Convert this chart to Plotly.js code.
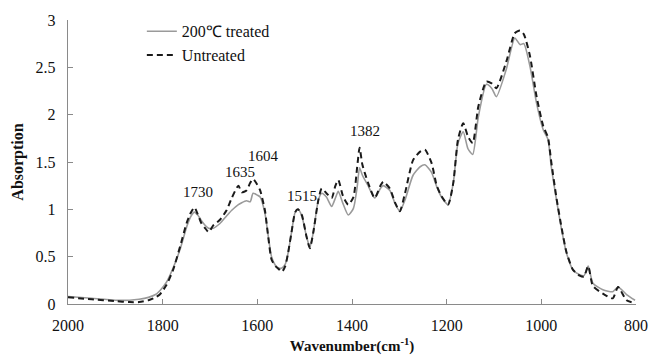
<!DOCTYPE html>
<html>
<head>
<meta charset="utf-8">
<script src="https://cdn.plot.ly/plotly-3.0.1.min.js"></script>
<style>html,body{margin:0;padding:0;background:#fff;}#chart{width:651px;height:356px;}</style>
</head>
<body>
<div id="chart"></div>
<script>
const wavenumber = [2000,1950,1900,1870,1850,1830,1815,1806,1792,1778,1763,1749,1740,1733,1726,1718,1710,1703,1693,1679,1665,1654,1640,1633,1623,1615,1609,1600,1594,1584,1577,1570,1562,1555,1548,1541,1535,1528,1520,1514,1506,1496,1489,1482,1471,1464,1454,1443,1435,1429,1419,1408,1397,1389,1384,1378,1366,1352,1340,1334,1320,1309,1299,1288,1271,1256,1246,1232,1221,1211,1197,1186,1176,1165,1155,1145,1133,1116,1105,1095,1074,1056,1045,1037,1024,1010,996,986,979,968,957,947,933,919,910,901,891,870,849,838,820,802];
const treated = [0.08,0.06,0.04,0.04,0.05,0.07,0.10,0.14,0.23,0.38,0.58,0.82,0.93,0.97,0.94,0.88,0.83,0.80,0.80,0.85,0.93,0.99,1.05,1.07,1.09,1.08,1.17,1.15,1.13,0.96,0.72,0.50,0.41,0.38,0.38,0.42,0.54,0.75,0.97,1.00,0.93,0.71,0.60,0.75,1.10,1.17,1.13,1.03,1.12,1.19,1.06,0.94,1.01,1.24,1.44,1.36,1.25,1.12,1.22,1.25,1.20,1.06,0.98,1.10,1.36,1.45,1.47,1.39,1.24,1.13,1.05,1.28,1.70,1.82,1.64,1.58,1.98,2.32,2.28,2.19,2.48,2.81,2.74,2.75,2.51,2.12,1.84,1.74,1.45,1.10,0.78,0.54,0.36,0.31,0.30,0.40,0.22,0.15,0.13,0.18,0.10,0.04];
const untreated = [0.07,0.05,0.03,0.02,0.02,0.04,0.07,0.10,0.20,0.36,0.61,0.86,0.97,1.02,0.95,0.85,0.80,0.76,0.83,0.89,0.99,1.12,1.25,1.18,1.20,1.28,1.32,1.26,1.20,0.99,0.71,0.47,0.40,0.37,0.34,0.40,0.54,0.75,0.97,1.00,0.94,0.71,0.59,0.75,1.10,1.22,1.17,1.12,1.25,1.31,1.14,1.05,1.13,1.45,1.65,1.47,1.28,1.12,1.25,1.29,1.22,1.07,0.98,1.17,1.52,1.61,1.63,1.49,1.25,1.14,1.05,1.28,1.74,1.91,1.77,1.70,2.09,2.35,2.33,2.28,2.56,2.86,2.89,2.85,2.62,2.19,1.88,1.76,1.50,1.12,0.80,0.55,0.36,0.30,0.29,0.40,0.19,0.11,0.06,0.18,0.04,0.01];
const peakLabels = ["1730","1635","1604","1515","1382"];
const peakX = [1725,1637,1587,1506,1373];
const peakY = [1.185,1.39,1.56,1.14,1.83];
const seriesNames = ["200\u2103 treated","Untreated"];
const xTicks = [2000,1800,1600,1400,1200,1000,800];
const yTicks = [0,0.5,1,1.5,2,2.5,3];

const font = "'Times New Roman', 'Liberation Serif', serif";
const traces = [
  {x: wavenumber, y: treated, name: seriesNames[0], type: 'scatter', mode: 'lines',
   line: {color: '#9a9a9a', width: 1.6, shape: 'spline', smoothing: 0.6}},
  {x: wavenumber, y: untreated, name: seriesNames[1], type: 'scatter', mode: 'lines',
   line: {color: '#1a1a1a', width: 2, dash: '6px,4px', shape: 'spline', smoothing: 0.6}}
];
const annotations = peakLabels.map((t,i)=>({x: peakX[i], y: peakY[i], text: t, showarrow: false,
  font: {family: font, size: 15, color: '#111'}, xanchor: 'center', yanchor: 'middle'}));
const axisCommon = {showgrid: false, zeroline: false, showline: true, linecolor: '#8a8a8a', linewidth: 1.3,
  ticks: 'inside', ticklen: 5, tickcolor: '#8a8a8a', tickwidth: 1,
  tickfont: {family: font, size: 16, color: '#111'}};
const layout = {
  width: 651, height: 356,
  margin: {l: 68, r: 15, t: 20, b: 52},
  paper_bgcolor: '#fff', plot_bgcolor: '#fff',
  font: {family: font},
  showlegend: true,
  legend: {x: 0.13, y: 1.02, xanchor: 'left', yanchor: 'top', bgcolor: 'rgba(0,0,0,0)',
    font: {family: font, size: 16, color: '#111'}},
  xaxis: Object.assign({}, axisCommon, {range: [2000, 800], tickvals: xTicks, ticklabelstandoff: 6,
    title: {text: '<b>Wavenumber(cm<sup>-1</sup>)</b>', font: {family: font, size: 15, color: '#111'}, standoff: 8}}),
  yaxis: Object.assign({}, axisCommon, {range: [0, 3], tickvals: yTicks, ticktext: yTicks.map(String), ticklabelstandoff: 8,
    title: {text: '<b>Absorption</b>', font: {family: font, size: 16, color: '#111'}, standoff: 8}}),
  annotations: annotations
};
Plotly.newPlot('chart', traces, layout, {displayModeBar: false, staticPlot: true});
</script>
</body>
</html>
